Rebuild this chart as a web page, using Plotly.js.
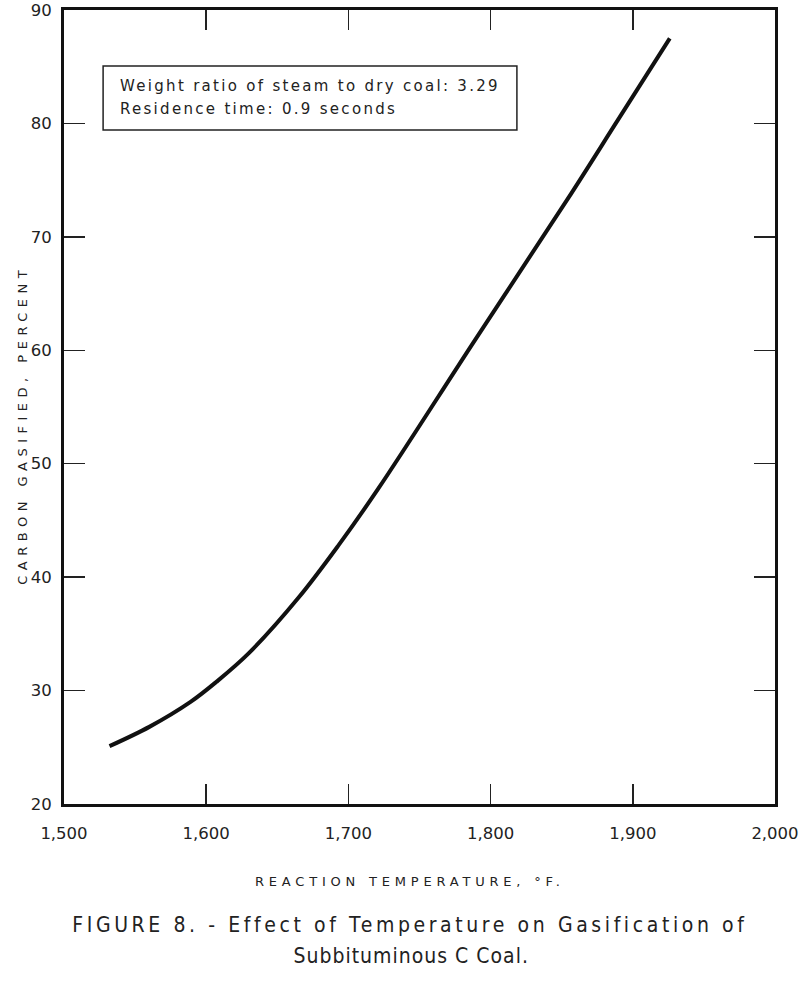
<!DOCTYPE html>
<html>
<head>
<meta charset="utf-8">
<script src="https://cdn.plot.ly/plotly-3.0.1.min.js"></script>
<style>
html,body{margin:0;padding:0;background:#fff;}
#chart{width:800px;height:981px;}
</style>
</head>
<body>
<div id="chart"></div>
<script>
// Data
const temperatureF = [1532, 1560, 1589, 1607, 1630, 1665, 1693, 1721, 1789, 1854, 1889, 1926];
const carbonGasifiedPct = [25.1, 26.8, 29.0, 30.75, 33.3, 38.2, 42.8, 47.8, 60.9, 73.3, 80.2, 87.5];
const xTicks = [1500, 1600, 1700, 1800, 1900, 2000];
const yTicks = [20, 30, 40, 50, 60, 70, 80, 90];
const noteLines = ["Weight ratio of steam to dry coal: 3.29", "Residence time: 0.9 seconds"];
const yTitle = "CARBON GASIFIED, PERCENT";
const xTitle = "REACTION TEMPERATURE, °F.";
const caption1 = "FIGURE 8. - Effect of Temperature on Gasification of";
const caption2 = "Subbituminous C Coal.";

const font = "DejaVu Sans, sans-serif";
const capFont = "DejaVu Sans Condensed, Liberation Sans Narrow, sans-serif";
const trace = {
  x: temperatureF, y: carbonGasifiedPct, type: 'scatter', mode: 'lines',
  line: {color: '#111', width: 4, shape: 'spline', smoothing: 1.0},
  hoverinfo: 'skip', showlegend: false
};
const axisCommon = {
  showline: true, linewidth: 3, linecolor: '#111', mirror: 'ticks',
  ticks: 'inside', tickwidth: 1.5, tickcolor: '#222',
  showgrid: false, zeroline: false, fixedrange: true,
  ticklabeloverflow: 'allow',
  tickfont: {family: font, size: 16.5, color: '#222'}
};
const layout = {
  width: 800, height: 981,
  margin: {l: 64, r: 25, t: 10, b: 177},
  paper_bgcolor: '#fff', plot_bgcolor: '#fff',
  xaxis: Object.assign({}, axisCommon, {
    range: [1500, 2000], tickvals: xTicks, tickformat: ',', ticklen: 20,
    ticklabelstandoff: 12
  }),
  yaxis: Object.assign({}, axisCommon, {
    range: [20, 90], tickvals: yTicks, ticklen: 21, ticklabelstandoff: 6
  }),
  shapes: [
    {type: 'rect', xref: 'paper', yref: 'paper', x0: 0.055, x1: 0.637, y0: 0.849, y1: 0.9295,
     line: {color: '#222', width: 1.5}, fillcolor: 'rgba(0,0,0,0)'}
  ],
  annotations: [
    {xref: 'paper', yref: 'paper', x: 0.076, y: 0.9043, xanchor: 'left', yanchor: 'middle',
     text: noteLines[0], showarrow: false, font: {family: font, size: 15, color: '#222'}},
    {xref: 'paper', yref: 'paper', x: 0.076, y: 0.8753, xanchor: 'left', yanchor: 'middle',
     text: noteLines[1], showarrow: false, font: {family: font, size: 15, color: '#222'}},
    {xref: 'paper', yref: 'paper', x: -0.072, y: 0.478, textangle: -90,
     text: yTitle, showarrow: false, font: {family: font, size: 13, color: '#222'}},
    {xref: 'paper', yref: 'paper', x: 0.487, y: -0.097, yanchor: 'middle',
     text: xTitle, showarrow: false, font: {family: font, size: 13, color: '#222'}},
    {xref: 'paper', yref: 'paper', x: 0.488, y: -0.153, yanchor: 'middle',
     text: caption1, showarrow: false, font: {family: capFont, size: 21, color: '#222'}},
    {xref: 'paper', yref: 'paper', x: 0.488, y: -0.192, yanchor: 'middle',
     text: caption2, showarrow: false, font: {family: capFont, size: 21, color: '#222'}}
  ]
};
const spacing = ['2.3px', '2.3px', '5.5px', '4.8px', '3.6px', '1.0px'];
const leftAnchored = [true, true, false, false, false, false];
Plotly.newPlot('chart', [trace], layout, {staticPlot: true, displayModeBar: false}).then(function(){
  const texts = document.querySelectorAll('.annotation-text');
  texts.forEach(function(t, i){
    if (!spacing[i]) return;
    const w0 = t.getBBox().width;
    t.style.letterSpacing = spacing[i];
    if (leftAnchored[i]) {
      const w1 = t.getBBox().width;
      const dx = (w1 - w0) / 2;
      const prior = t.getAttribute('transform') || '';
      t.setAttribute('transform', prior + ' translate(' + dx + ',0)');
    }
  });
});
</script>
</body>
</html>
